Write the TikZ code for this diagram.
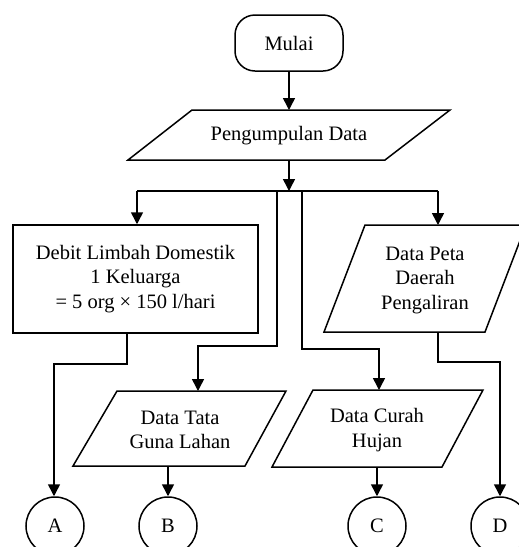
\documentclass[tikz,border=0pt]{standalone}
\usepackage{fontspec}
\setmainfont{Liberation Serif}
\usetikzlibrary{arrows.meta}
\begin{document}
\begin{tikzpicture}[x=1pt,y=-1pt,line width=1.5pt,
  every node/.style={font=\fontsize{20.5}{24.5}\selectfont, align=center, inner sep=0pt},
  arr/.style={-{Triangle[length=12pt,width=12pt]}},
  para/.style={draw, line join=miter},
  conn/.style={draw, circle, minimum size=58pt}]
\useasboundingbox (0,0) rectangle (519,547);
\clip (0,0) rectangle (519,547);
% start
\node (mulai) [draw, rounded corners=20pt, minimum width=108pt, minimum height=56pt] at (289,43) {Mulai};
% Pengumpulan Data
\draw[para] (192,110) -- (450,110) -- (385,160) -- (128,160) -- cycle;
\node (pd) at (289,136) {Pengumpulan Data};
\coordinate (pdtop) at (289,110);
\coordinate (pdbot) at (289,160);
\coordinate (split) at (289,191);
% branch line
\coordinate (bl) at (137,191);
\coordinate (br) at (438,191);
\coordinate (bm1) at (277,191);
\coordinate (bm2) at (302,191);
% Debit box
\node (debit) [draw, minimum width=245pt, minimum height=108pt] at (135.5,279) {Debit Limbah Domestik\\1 Keluarga\\= 5 org × 150 l/hari};
% Data Peta
\draw[para] (365,225) -- (526,225) -- (485,332) -- (324,332) -- cycle;
\node (peta) at (425,280) {Data Peta\\Daerah\\Pengaliran};
\coordinate (petatop) at (438,225);
\coordinate (petabot) at (438,332);
% Data Tata Guna Lahan
\draw[para] (117,391) -- (286,391) -- (245,466) -- (73,466) -- cycle;
\node (tata) at (180,430) {Data Tata\\Guna Lahan};
\coordinate (tatatop) at (198,391);
\coordinate (tatabot) at (168,466);
% Data Curah Hujan
\draw[para] (313,390) -- (483,390) -- (442,467) -- (272,467) -- cycle;
\node (curah) at (377,430) {Data Curah\\Hujan};
\coordinate (curahtop) at (379,390);
\coordinate (curahbot) at (377,467);
% connectors
\node (A) [conn] at (55,526) {A};
\node (B) [conn] at (168,526) {B};
\node (C) [conn] at (377,526) {C};
\node (D) [conn] at (500,526) {D};
% arrows
\draw[arr] (mulai.south) -- (pdtop);
\draw[arr] (pdbot) -- (split);
\draw (bl) -- (br);
\draw[arr] (bl) -- (bl |- debit.north);
\draw[arr] (br) -- (petatop);
\draw[arr] (bm1) -- (277,346) -- (198,346) -- (tatatop);
\draw[arr] (bm2) -- (302,349) -- (379,349) -- (curahtop);
\draw[arr] (127,333) -- (127,364) -- (54,364) -- (A.north -| 54,0);
\draw[arr] (petabot) -- (438,362) -- (500,362) -- (D.north);
\draw[arr] (tatabot) -- (B.north);
\draw[arr] (curahbot) -- (C.north);
\end{tikzpicture}
\end{document}
